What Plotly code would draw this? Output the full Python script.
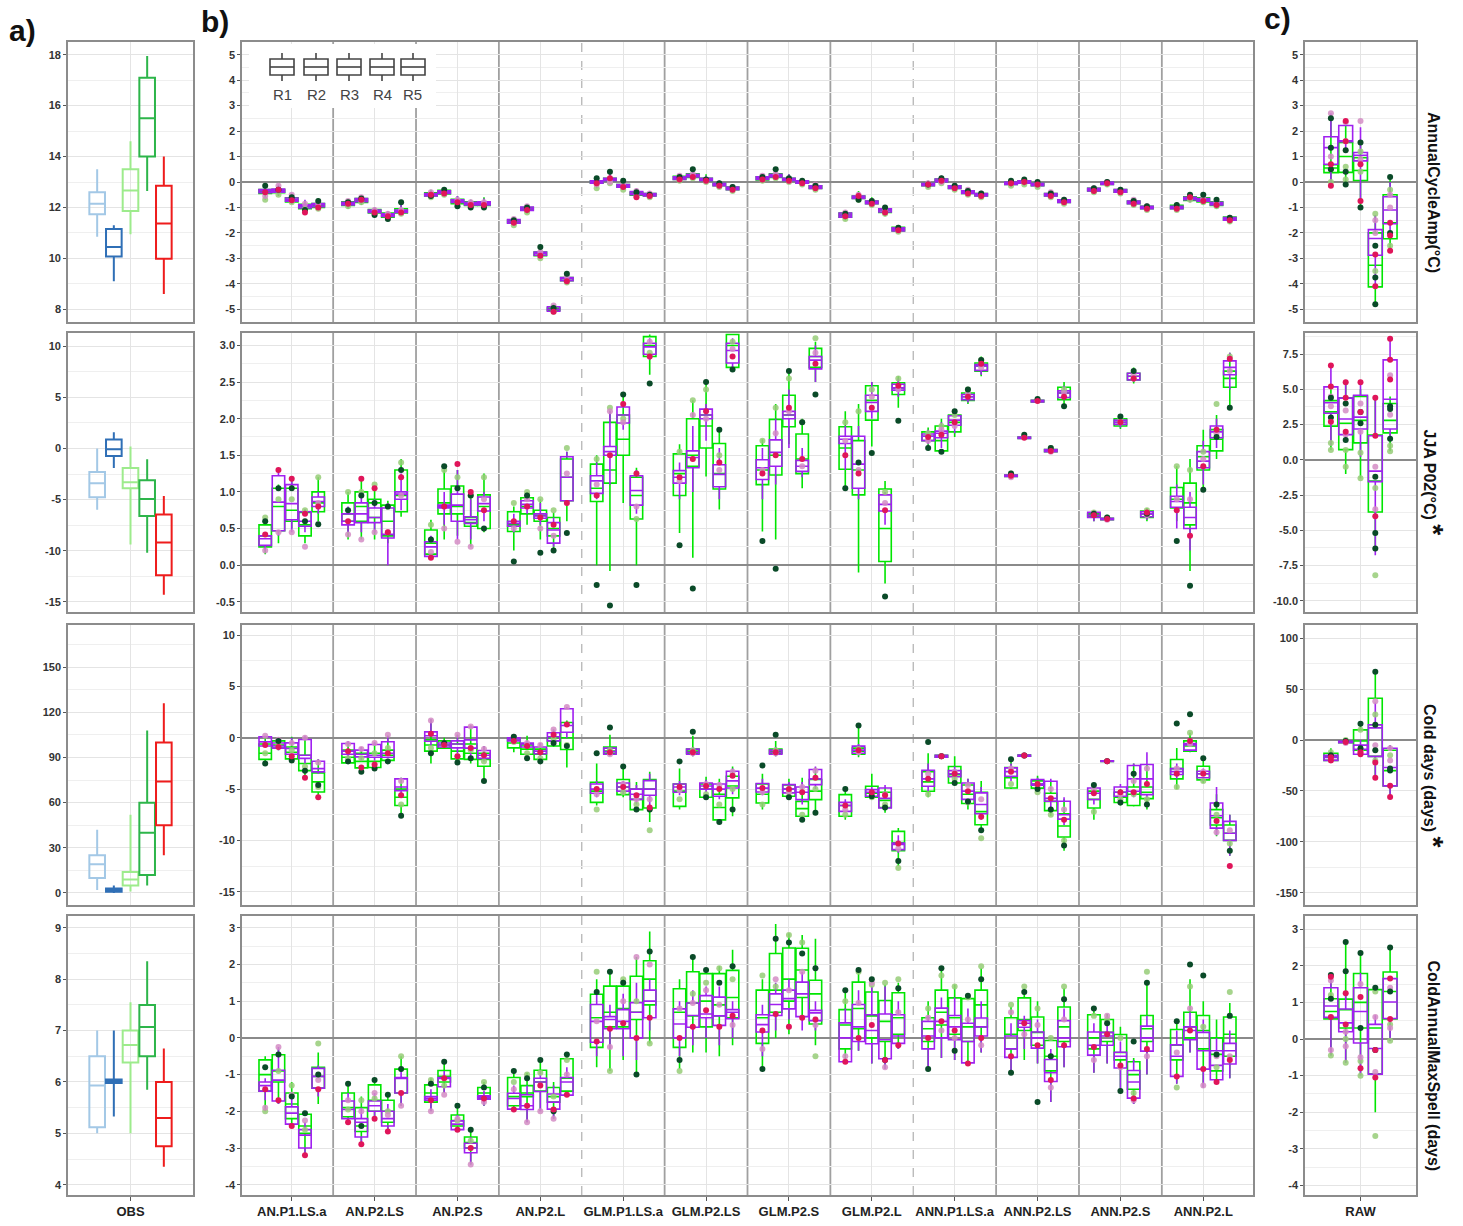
import plotly.graph_objects as go

W, H = 1463, 1226

# ---------------- categories ----------------
methods = ["AN.P1.LS.a", "AN.P2.LS", "AN.P2.S", "AN.P2.L",
           "GLM.P1.LS.a", "GLM.P2.LS", "GLM.P2.S", "GLM.P2.L",
           "ANN.P1.LS.a", "ANN.P2.LS", "ANN.P2.S", "ANN.P2.L"]
runs = ["R1", "R2", "R3", "R4", "R5"]
row_titles = ["AnnualCycleAmp(°C)", "JJA P02(°C)", "Cold days (days)", "ColdAnnualMaxSpell (days)"]
row_star = [False, True, True, False]
obs_colors = ["#a3c8e6", "#2f6fb6", "#9deb8c", "#2db54a", "#ee1c1c"]

# ---------------- y-axis tick labels per panel (a, b, c) ----------------
ticks_a = [["8", "10", "12", "14", "16", "18"],
           ["-15", "-10", "-5", "0", "5", "10"],
           ["0", "30", "60", "90", "120", "150"],
           ["4", "5", "6", "7", "8", "9"]]
ticks_b = [["-5", "-4", "-3", "-2", "-1", "0", "1", "2", "3", "4", "5"],
           ["-0.5", "0.0", "0.5", "1.0", "1.5", "2.0", "2.5", "3.0"],
           ["-15", "-10", "-5", "0", "5", "10"],
           ["-4", "-3", "-2", "-1", "0", "1", "2", "3"]]
ticks_c = [["-5", "-4", "-3", "-2", "-1", "0", "1", "2", "3", "4", "5"],
           ["-10.0", "-7.5", "-5.0", "-2.5", "0.0", "2.5", "5.0", "7.5"],
           ["-150", "-100", "-50", "0", "50", "100"],
           ["-4", "-3", "-2", "-1", "0", "1", "2", "3"]]
range_a = [[7.5, 18.5], [-16.0, 11.3], [-8, 178], [3.8, 9.23]]
range_b = [[-5.5, 5.5], [-0.64, 3.17], [-16.3, 11.0], [-4.28, 3.32]]
range_c = [[-5.5, 5.5], [-10.8, 9.0], [-162, 113], [-4.26, 3.36]]

# ---------------- OBS (panel a): (lower, q1, median, q3, upper) per colour ----------------
obs_acamp = [(10.85, 11.73, 12.15, 12.6, 13.5), (9.1, 10.07, 10.45, 11.15, 11.3),
             (10.95, 11.86, 12.67, 13.5, 14.6), (12.65, 14.0, 15.5, 17.1, 17.95),
             (8.6, 9.98, 11.37, 12.85, 14.0)]
obs_jja = [(-6.0, -4.77, -3.4, -2.3, 0.0), (-1.9, -0.73, -0.07, 0.87, 1.6),
           (-9.4, -3.9, -3.3, -1.9, 0.2), (-10.2, -6.6, -4.95, -3.1, -1.06),
           (-14.3, -12.4, -9.2, -6.45, -4.66)]
obs_cold = [(2, 10, 19, 25, 42), (0, 0.8, 2, 3, 5),
            (1, 5, 9, 14, 52), (5, 12, 40, 60, 108),
            (25, 45, 74, 100, 126)]
obs_spell = [(5.0, 5.12, 5.93, 6.5, 7.0), (5.33, 5.98, 6.02, 6.05, 7.0),
             (5.0, 6.38, 6.72, 7.0, 7.55), (5.85, 6.5, 7.07, 7.5, 8.35),
             (4.35, 4.75, 5.3, 6.0, 6.65)]

# ---------------- RAW (panel c): (lower, q1, median, q3, upper) per run ----------------
raw_acamp_purple = [(-0.15, 0.7, 1.35, 1.78, 2.7), (1.3, 1.58, 1.62, 2.22, 2.45), (-0.75, 0.83, 1.05, 1.16, 2.15),
                    (-4.1, -2.88, -2.22, -1.87, -1.3), (-2.1, -1.64, -1.1, -0.58, 0.0)]
raw_acamp_green = [(-0.15, 0.37, 0.55, 0.68, 2.5), (-0.1, 0.38, 1.0, 1.55, 2.4), (-1.0, 0.06, 0.45, 0.95, 1.6),
                   (-4.8, -4.12, -3.27, -2.0, -1.3), (-2.7, -2.23, -1.6, -0.5, 0.2)]
raw_jja_purple = [(1.0, 3.3, 4.05, 5.18, 6.7), (1.3, 1.79, 2.9, 4.38, 5.5), (0.2, 2.19, 3.03, 4.58, 5.5),
                  (-6.77, -1.55, -0.8, 1.71, 4.4), (1.5, 2.19, 4.3, 7.09, 8.6)]
raw_jja_green = [(0.7, 2.39, 3.4, 4.2, 5.0), (-1.0, 0.72, 2.6, 4.4, 5.5), (-1.3, 1.2, 2.8, 4.5, 5.0),
                 (-6.3, -3.7, -1.5, 1.75, 4.5), (0.6, 1.91, 2.8, 4.0, 4.5)]
raw_cold_purple = [(-22, -20, -17, -15, -13), (-3, -2.5, -2, -1, -0.5), (-15, -14, -9, -5, 0),
                   (-37, -16, 12, 15, 37), (-56, -45, -27, -8, -5)]
raw_cold_green = [(-22, -20, -16, -13, -8), (-3, -2.5, -2, -1, -0.5), (-15, -10, -1, 10, 17),
                  (-35, -16, 15, 41, 68), (-56, -45, -30, -10, -5)]
raw_spell_purple = [(-0.45, 0.59, 0.9, 1.4, 1.75), (-0.65, 0.2, 0.44, 0.82, 1.3), (-1.0, -0.11, 0.75, 1.4, 1.8),
                    (-1.1, -0.96, -0.26, 0.4, 0.65), (-0.05, 0.56, 1.01, 1.65, 1.7)]
raw_spell_green = [(-0.45, 0.55, 0.75, 1.1, 1.75), (-0.65, 0.3, 0.8, 1.09, 2.65), (-1.0, 0.3, 1.0, 1.79, 2.35),
                   (-2.0, -0.95, 0.3, 1.35, 1.45), (-0.05, 0.55, 1.3, 1.83, 2.5)]

# member points in RAW panels (per run)
raw_acamp_red = [[0.7, -0.15], [2.4, 1.6], [0.7, -0.75], [-2.85, -4.1], [-1.6, -2.1, -2.7]]
raw_acamp_dk = [[1.35, 0.5, 2.5], [1.25, 0.4, -0.1], [1.55, -1.0], [-2.5, -3.75, -4.8], [-2.0, 0.2]]
raw_acamp_pink = [[2.7, 1.0], [1.6, 2.35], [2.4, 0.9], [-1.5, -2.0], [-0.5, -1.0]]
raw_acamp_lt = [[0.5, 0.0], [0.6, 0.1], [1.2, 0.4], [-1.25, -3.5], [-0.3, -2.5]]
raw_jja_red = [[6.7, 5.2, 2.7], [5.5, 4.4, 2.0], [5.5, 3.4], [4.4, 1.7, -4.0], [8.6, 7.1, 5.7]]
raw_jja_dk = [[4.4, 3.0], [4.0, 1.4], [3.4, 2.6], [-1.2, -5.2, -6.3], [3.8, 3.6, 1.5]]
raw_jja_pink = [[4.5, 3.8], [3.5, 1.8], [4.0, 2.0], [-0.5, -3.5], [6.0, 3.2]]
raw_jja_lt = [[1.2, 0.7], [-0.5, 0.7], [0.5, -1.3], [-2.0, -8.2], [1.0, 0.6]]
raw_cold_red = [[-20, -17], [-2], [-14, -12], [-22, -37], [-45, -56]]
raw_cold_dk = [[-15], [-1], [16, -8], [67, 15, -10], [-28, -30]]
raw_cold_pink = [[-18], [-3], [-10], [-5, 38], [-20, -8]]
raw_cold_lt = [[-12], [0], [10], [25, -20], [-15]]
raw_spell_red = [[1.7, 0.6], [1.25, 0.4], [1.15, -0.8], [-1.05, -0.3], [1.65, 0.55]]
raw_spell_dk = [[1.75, 1.1], [2.65, 1.85], [2.35, 0.3], [1.4, -0.3], [2.5, 1.3]]
raw_spell_pink = [[1.6, -0.3], [0.2, -0.2], [1.5, -0.5], [0.6, -0.9], [1.4, 0.3]]
raw_spell_lt = [[1.2, -0.45], [0.0, -0.65], [-0.6, -1.0], [-2.65, 1.3], [0.4, -0.05]]

# ---------------- methods (panel b): 12 methods x 5 runs, (lower, q1, median, q3, upper) ----------------
acamp_purple = [
    (-0.5, -0.42, -0.35, -0.3, -0.2), (-0.5, -0.4, -0.35, -0.28, -0.1), (-0.85, -0.75, -0.7, -0.63, -0.45), (-1.25, -1.02, -0.95, -0.9, -0.7), (-1.1, -0.97, -0.9, -0.85, -0.7),
    (-1.0, -0.9, -0.85, -0.8, -0.7), (-0.85, -0.77, -0.7, -0.65, -0.55), (-1.3, -1.2, -1.15, -1.1, -1.0), (-1.45, -1.35, -1.3, -1.25, -1.15), (-1.3, -1.2, -1.15, -1.1, -0.8),
    (-0.6, -0.55, -0.5, -0.45, -0.35), (-0.5, -0.45, -0.4, -0.35, -0.25), (-0.9, -0.8, -0.75, -0.7, -0.55), (-1.0, -0.9, -0.85, -0.8, -0.7), (-1.0, -0.9, -0.85, -0.78, -0.65),
    (-1.7, -1.62, -1.55, -1.48, -1.4), (-1.2, -1.12, -1.05, -0.98, -0.9), (-3.0, -2.88, -2.8, -2.75, -2.65), (-5.15, -5.08, -5.0, -4.9, -4.8), (-4.0, -3.88, -3.8, -3.75, -3.65),
    (-0.15, -0.05, 0.0, 0.05, 0.15), (-0.05, 0.05, 0.1, 0.15, 0.35), (-0.3, -0.2, -0.15, -0.1, 0.0), (-0.65, -0.5, -0.45, -0.38, -0.25), (-0.65, -0.55, -0.5, -0.45, -0.35),
    (0.05, 0.1, 0.15, 0.2, 0.3), (0.1, 0.2, 0.25, 0.3, 0.5), (-0.05, 0.05, 0.1, 0.15, 0.25), (-0.25, -0.15, -0.1, -0.05, 0.05), (-0.35, -0.3, -0.25, -0.2, -0.1),
    (0.0, 0.1, 0.15, 0.2, 0.3), (0.1, 0.2, 0.25, 0.3, 0.5), (-0.05, 0.05, 0.1, 0.15, 0.3), (-0.15, -0.05, 0.0, 0.05, 0.15), (-0.35, -0.25, -0.2, -0.15, -0.05),
    (-1.45, -1.38, -1.3, -1.22, -1.15), (-0.75, -0.65, -0.6, -0.55, -0.4), (-0.95, -0.85, -0.8, -0.75, -0.65), (-1.3, -1.18, -1.1, -1.05, -0.95), (-2.0, -1.92, -1.85, -1.8, -1.7),
    (-0.25, -0.15, -0.1, -0.05, 0.05), (-0.1, 0.0, 0.05, 0.12, 0.25), (-0.35, -0.25, -0.2, -0.15, -0.05), (-0.55, -0.45, -0.4, -0.35, -0.25), (-0.65, -0.55, -0.5, -0.45, -0.35),
    (-0.2, -0.1, -0.05, 0.0, 0.1), (-0.15, -0.05, 0.0, 0.05, 0.2), (-0.25, -0.15, -0.1, -0.05, 0.05), (-0.65, -0.55, -0.5, -0.45, -0.35), (-0.9, -0.8, -0.75, -0.7, -0.6),
    (-0.45, -0.35, -0.3, -0.25, -0.15), (-0.15, -0.1, -0.05, 0.0, 0.1), (-0.5, -0.4, -0.35, -0.3, -0.2), (-0.95, -0.85, -0.8, -0.75, -0.65), (-1.1, -1.05, -1.0, -0.95, -0.85),
    (-1.15, -1.05, -1.0, -0.95, -0.85), (-0.8, -0.7, -0.65, -0.6, -0.5), (-0.85, -0.75, -0.7, -0.65, -0.5), (-1.0, -0.9, -0.85, -0.8, -0.65), (-1.6, -1.5, -1.45, -1.4, -1.3)]
acamp_green = [
    (-0.7, -0.45, -0.38, -0.3, -0.15), (-0.55, -0.42, -0.35, -0.3, -0.15), (-0.85, -0.78, -0.7, -0.62, -0.5), (-1.2, -1.05, -0.97, -0.88, -0.75), (-1.1, -1.0, -0.92, -0.85, -0.65),
    (-1.05, -0.92, -0.85, -0.78, -0.7), (-0.9, -0.8, -0.72, -0.65, -0.6), (-1.35, -1.22, -1.15, -1.08, -1.0), (-1.5, -1.38, -1.3, -1.22, -1.15), (-1.3, -1.22, -1.15, -1.05, -0.8),
    (-0.6, -0.55, -0.5, -0.42, -0.3), (-0.55, -0.47, -0.4, -0.33, -0.25), (-1.0, -0.85, -0.75, -0.68, -0.55), (-1.05, -0.92, -0.85, -0.78, -0.7), (-1.05, -0.92, -0.85, -0.78, -0.6),
    (-1.7, -1.6, -1.55, -1.5, -1.4), (-1.25, -1.1, -1.05, -1.0, -0.9), (-3.0, -2.9, -2.82, -2.75, -2.55), (-5.1, -5.05, -5.0, -4.95, -4.85), (-4.0, -3.88, -3.8, -3.75, -3.6),
    (-0.25, -0.05, 0.0, 0.05, 0.15), (0.0, 0.05, 0.1, 0.15, 0.4), (-0.3, -0.2, -0.15, -0.1, 0.05), (-0.65, -0.52, -0.45, -0.4, -0.3), (-0.65, -0.55, -0.5, -0.45, -0.35),
    (0.0, 0.1, 0.15, 0.22, 0.3), (0.1, 0.18, 0.25, 0.32, 0.5), (-0.05, 0.05, 0.1, 0.15, 0.3), (-0.25, -0.15, -0.1, -0.05, 0.05), (-0.4, -0.3, -0.25, -0.2, -0.1),
    (0.0, 0.08, 0.15, 0.2, 0.3), (0.1, 0.18, 0.25, 0.32, 0.5), (-0.05, 0.05, 0.1, 0.15, 0.3), (-0.15, -0.05, 0.0, 0.05, 0.15), (-0.35, -0.25, -0.2, -0.15, -0.05),
    (-1.5, -1.38, -1.3, -1.22, -1.15), (-0.8, -0.65, -0.6, -0.55, -0.35), (-0.95, -0.85, -0.8, -0.75, -0.6), (-1.35, -1.2, -1.1, -1.05, -0.9), (-2.0, -1.92, -1.85, -1.78, -1.7),
    (-0.25, -0.15, -0.1, -0.05, 0.05), (-0.1, 0.0, 0.05, 0.12, 0.25), (-0.35, -0.25, -0.2, -0.15, -0.05), (-0.55, -0.45, -0.4, -0.35, -0.25), (-0.65, -0.55, -0.5, -0.45, -0.35),
    (-0.2, -0.1, -0.05, 0.0, 0.1), (-0.15, -0.05, 0.0, 0.05, 0.2), (-0.25, -0.15, -0.1, -0.05, 0.05), (-0.65, -0.55, -0.5, -0.45, -0.35), (-0.9, -0.8, -0.75, -0.7, -0.6),
    (-0.45, -0.35, -0.3, -0.25, -0.15), (-0.2, -0.1, -0.05, 0.0, 0.1), (-0.5, -0.4, -0.35, -0.3, -0.2), (-0.95, -0.85, -0.8, -0.75, -0.65), (-1.15, -1.05, -1.0, -0.95, -0.85),
    (-1.15, -1.05, -1.0, -0.92, -0.8), (-0.8, -0.72, -0.65, -0.58, -0.45), (-0.9, -0.78, -0.7, -0.62, -0.45), (-1.05, -0.92, -0.85, -0.78, -0.65), (-1.65, -1.5, -1.45, -1.38, -1.3)]
acamp_red = [-0.4, -0.3, -0.72, -1.2, -1.0, -0.85, -0.7, -1.2, -1.35, -1.2, -0.5, -0.45, -0.8, -0.9, -0.9,
             -1.6, -1.1, -2.9, -5.1, -3.9, -0.05, 0.15, -0.2, -0.6, -0.55, 0.1, 0.2, 0.05, -0.15, -0.3,
             0.1, 0.2, 0.05, -0.05, -0.25, -1.35, -0.55, -0.85, -1.2, -1.9, -0.1, 0.05, -0.25, -0.45, -0.55,
             -0.05, 0.0, -0.1, -0.55, -0.8, -0.35, -0.05, -0.4, -0.85, -1.05, -1.05, -0.6, -0.75, -0.9, -1.5]
acamp_dk = [-0.15, -0.3, -0.6, -1.1, -0.75, -0.8, -0.65, -1.3, -1.45, -0.8, -0.55, -0.3, -0.95, -1.0, -1.0,
            -1.5, -1.0, -2.55, -4.95, -3.6, 0.15, 0.4, 0.05, -0.4, -0.5, 0.2, 0.5, 0.1, -0.05, -0.2,
            0.2, 0.5, 0.15, 0.05, -0.15, -1.25, -0.7, -0.75, -1.0, -1.8, -0.1, 0.15, -0.15, -0.35, -0.45,
            0.05, 0.1, 0.0, -0.45, -0.7, -0.25, 0.0, -0.3, -0.75, -0.95, -0.9, -0.5, -0.5, -0.7, -1.4]
acamp_pink = [-0.55, -0.15, -0.5, -0.85, -0.85, -0.75, -0.6, -1.1, -1.25, -1.1, -0.4, -0.35, -0.7, -0.8, -0.8,
              -1.45, -0.95, -2.75, -4.85, -3.7, -0.1, 0.0, -0.05, -0.35, -0.45, 0.25, 0.3, 0.05, -0.1, -0.2,
              0.25, 0.3, 0.05, 0.0, -0.1, -1.2, -0.5, -0.75, -1.05, -1.8, -0.05, 0.0, -0.15, -0.3, -0.45,
              0.0, 0.05, -0.05, -0.4, -0.7, -0.25, 0.0, -0.3, -0.7, -0.95, -0.95, -0.55, -0.65, -0.8, -1.4]
acamp_lt = [-0.7, -0.5, -0.8, -1.05, -1.05, -0.95, -0.8, -1.25, -1.4, -1.25, -0.6, -0.5, -0.85, -0.95, -0.95,
            -1.7, -1.2, -3.0, -5.1, -3.95, -0.25, -0.05, -0.3, -0.55, -0.6, 0.05, 0.15, 0.0, -0.2, -0.35,
            0.05, 0.15, 0.0, -0.1, -0.3, -1.45, -0.7, -0.9, -1.25, -1.95, -0.2, -0.05, -0.3, -0.5, -0.6,
            -0.15, -0.1, -0.2, -0.6, -0.85, -0.4, -0.1, -0.45, -0.9, -1.1, -1.1, -0.7, -0.8, -0.95, -1.55]

jja_purple = [
    (0.2, 0.27, 0.36, 0.4, 0.45), (0.4, 0.47, 0.86, 1.22, 1.32), (0.45, 0.62, 0.84, 1.1, 1.2), (0.45, 0.53, 0.6, 0.73, 0.76), (0.7, 0.8, 0.87, 0.93, 1.0),
    (0.45, 0.55, 0.6, 0.7, 0.8), (0.45, 0.58, 0.7, 0.85, 1.0), (0.45, 0.58, 0.65, 0.78, 0.9), (0.0, 0.37, 0.42, 0.78, 0.85), (0.75, 0.9, 0.97, 1.0, 1.25),
    (0.08, 0.12, 0.25, 0.32, 0.4), (0.55, 0.78, 0.8, 0.82, 1.0), (0.35, 0.6, 0.82, 0.97, 1.3), (0.35, 0.57, 0.62, 0.66, 0.9), (0.6, 0.74, 0.84, 0.93, 1.0),
    (0.45, 0.53, 0.57, 0.6, 0.7), (0.7, 0.78, 0.83, 0.88, 0.95), (0.55, 0.64, 0.67, 0.7, 0.85), (0.25, 0.3, 0.48, 0.58, 0.65), (0.85, 0.88, 1.2, 1.48, 1.55),
    (0.9, 0.98, 1.15, 1.22, 1.4), (1.1, 1.5, 1.55, 1.62, 2.1), (1.85, 1.94, 2.05, 2.16, 2.2), (0.7, 0.82, 1.02, 1.22, 1.3), (2.8, 2.88, 2.98, 3.03, 3.1),
    (0.9, 1.12, 1.2, 1.29, 1.4), (1.0, 1.33, 1.47, 1.56, 1.9), (1.7, 2.0, 2.05, 2.13, 2.2), (0.9, 1.07, 1.24, 1.37, 1.6), (2.7, 2.76, 2.93, 3.03, 3.1),
    (0.9, 1.17, 1.33, 1.44, 1.6), (1.1, 1.35, 1.54, 1.71, 2.0), (1.6, 2.0, 2.05, 2.1, 2.4), (1.2, 1.28, 1.35, 1.43, 1.6), (2.5, 2.68, 2.8, 2.85, 3.0),
    (1.3, 1.66, 1.72, 1.76, 1.9), (0.9, 1.05, 1.38, 1.76, 1.9), (2.0, 2.1, 2.22, 2.32, 2.5), (0.55, 0.74, 0.83, 0.96, 1.0), (2.3, 2.39, 2.42, 2.47, 2.55),
    (1.65, 1.7, 1.76, 1.79, 1.85), (1.6, 1.74, 1.8, 1.83, 1.95), (1.8, 1.91, 1.98, 2.04, 2.1), (2.22, 2.26, 2.3, 2.33, 2.38), (2.6, 2.66, 2.72, 2.74, 2.8),
    (1.19, 1.21, 1.22, 1.23, 1.25), (1.72, 1.73, 1.74, 1.75, 1.76), (2.22, 2.23, 2.24, 2.25, 2.26), (1.52, 1.55, 1.56, 1.58, 1.6), (2.25, 2.29, 2.35, 2.38, 2.45),
    (0.6, 0.65, 0.68, 0.72, 0.75), (0.61, 0.62, 0.63, 0.64, 0.65), (1.88, 1.92, 1.95, 1.98, 2.02), (2.5, 2.53, 2.58, 2.62, 2.68), (0.62, 0.66, 0.7, 0.73, 0.76),
    (0.5, 0.79, 0.87, 0.94, 1.1), (0.2, 0.5, 0.65, 0.79, 1.0), (1.1, 1.33, 1.42, 1.55, 1.7), (1.6, 1.74, 1.82, 1.9, 2.0), (2.4, 2.6, 2.7, 2.79, 2.9)]
jja_green = [
    (0.15, 0.25, 0.4, 0.55, 0.6), (0.3, 0.47, 0.8, 1.05, 1.1), (0.5, 0.6, 0.75, 1.05, 1.15), (0.3, 0.4, 0.55, 0.72, 0.76), (0.6, 0.73, 0.85, 1.0, 1.2),
    (0.35, 0.6, 0.7, 0.85, 1.0), (0.35, 0.6, 0.8, 1.0, 1.15), (0.35, 0.65, 0.85, 0.9, 1.05), (0.3, 0.4, 0.6, 0.82, 0.88), (0.66, 0.73, 0.95, 1.3, 1.45),
    (0.07, 0.15, 0.3, 0.48, 0.62), (0.35, 0.7, 0.85, 1.04, 1.3), (0.4, 0.7, 0.8, 1.08, 1.3), (0.25, 0.53, 0.58, 0.65, 0.95), (0.45, 0.5, 0.8, 0.96, 1.25),
    (0.2, 0.46, 0.55, 0.73, 0.8), (0.55, 0.7, 0.8, 0.92, 1.0), (0.35, 0.6, 0.68, 0.75, 0.9), (0.2, 0.4, 0.5, 0.65, 0.72), (0.6, 0.88, 1.2, 1.45, 1.55),
    (0.0, 0.87, 1.05, 1.38, 1.5), (-0.08, 1.12, 1.3, 1.95, 2.1), (0.85, 1.5, 1.72, 2.05, 2.33), (0.0, 0.63, 0.95, 1.2, 1.33), (2.6, 2.85, 3.0, 3.12, 3.15),
    (0.44, 0.95, 1.25, 1.52, 1.65), (0.1, 1.35, 1.5, 2.0, 2.25), (1.21, 1.6, 1.9, 2.05, 2.48), (0.76, 1.04, 1.25, 1.66, 1.85), (2.65, 2.7, 3.0, 3.15, 3.15),
    (0.46, 1.1, 1.3, 1.63, 1.72), (0.35, 1.23, 1.5, 1.99, 2.2), (1.65, 1.89, 2.05, 2.32, 2.65), (1.05, 1.25, 1.45, 1.79, 2.0), (2.5, 2.7, 2.85, 2.96, 3.05),
    (1.05, 1.31, 1.6, 1.89, 2.1), (-0.1, 0.96, 1.3, 1.7, 2.2), (1.62, 1.98, 2.25, 2.45, 2.5), (-0.25, 0.05, 0.5, 1.04, 1.15), (2.15, 2.33, 2.42, 2.49, 2.58),
    (1.62, 1.7, 1.76, 1.82, 1.88), (1.55, 1.56, 1.7, 1.9, 2.0), (1.75, 1.82, 1.95, 2.05, 2.12), (2.2, 2.25, 2.3, 2.35, 2.4), (2.58, 2.65, 2.72, 2.76, 2.85),
    (1.19, 1.21, 1.22, 1.23, 1.25), (1.72, 1.73, 1.74, 1.75, 1.76), (2.22, 2.23, 2.24, 2.25, 2.26), (1.52, 1.55, 1.56, 1.58, 1.6), (2.17, 2.26, 2.35, 2.43, 2.5),
    (0.6, 0.66, 0.68, 0.7, 0.75), (0.61, 0.62, 0.63, 0.64, 0.65), (1.86, 1.9, 1.95, 2.0, 2.05), (2.48, 2.53, 2.58, 2.62, 2.7), (0.6, 0.65, 0.7, 0.74, 0.78),
    (0.6, 0.78, 0.9, 1.06, 1.35), (-0.08, 0.55, 0.85, 1.12, 1.45), (1.03, 1.3, 1.48, 1.63, 1.85), (1.45, 1.56, 1.72, 1.85, 2.05), (2.15, 2.43, 2.55, 2.65, 2.9)]
jja_red = [0.42, 1.3, 1.18, 0.7, 0.8, 0.6, 1.18, 1.05, 0.45, 1.2, 0.1, 0.8, 1.38, 1.0, 0.75,
           0.6, 0.8, 0.65, 0.55, 0.85, 0.95, 1.5, 2.2, 1.25, 2.85, 1.2, 1.45, 2.1, 1.4, 2.85,
           1.25, 1.5, 2.15, 1.45, 2.75, 1.5, 1.25, 2.15, 0.75, 2.45, 1.75, 1.78, 1.95, 2.3, 2.75,
           1.22, 1.74, 2.24, 1.56, 2.3, 0.68, 0.63, 1.95, 2.55, 0.72, 0.75, 0.4, 1.35, 1.85, 2.82]
jja_dk = [0.6, 1.05, 1.05, 0.6, 0.56, 0.75, 0.95, 0.85, 0.8, 1.3, 0.35, 1.35, 1.05, 0.95, 0.5,
          0.05, 0.95, 0.17, 0.2, 0.44, -0.27, -0.55, 2.33, -0.27, 2.48, 0.27, -0.32, 2.5, 1.85, 2.67,
          0.33, -0.05, 2.65, 1.95, 2.33, 1.05, 1.4, 1.53, -0.43, 1.97, 1.6, 1.55, 2.1, 2.4, 2.8,
          1.25, 1.78, 2.27, 1.6, 2.17, 0.7, 0.65, 2.03, 2.65, 0.7, 0.33, -0.28, 1.03, 1.75, 2.15]
jja_pink = [0.2, 0.45, 0.45, 0.25, 0.85, 0.42, 0.35, 0.45, 0.45, 0.95, 0.18, 0.5, 0.32, 0.25, 0.9,
            0.5, 0.9, 0.5, 0.4, 1.25, 1.1, 2.1, 1.95, 0.8, 3.05, 1.15, 2.05, 2.0, 1.3, 2.95,
            1.3, 1.8, 2.1, 1.35, 2.9, 1.7, 1.3, 2.3, 0.85, 2.4, 1.7, 1.85, 1.9, 2.35, 2.7,
            1.2, 1.75, 2.25, 1.55, 2.35, 0.7, 0.62, 1.95, 2.6, 0.68, 0.9, 0.9, 1.45, 1.8, 2.65]
jja_lt = [0.65, 0.9, 0.9, 0.75, 1.2, 1.0, 1.0, 1.1, 0.8, 1.4, 0.55, 1.3, 1.2, 0.95, 1.2,
          0.85, 1.0, 0.9, 0.75, 1.6, 1.45, 2.15, 2.0, 0.63, 2.9, 1.55, 2.25, 2.4, 1.5, 3.05,
          1.7, 2.15, 2.55, 1.95, 3.1, 1.95, 2.1, 2.4, 1.0, 2.55, 1.8, 1.9, 2.05, 2.4, 2.8,
          1.25, 1.76, 2.25, 1.6, 2.4, 0.72, 0.65, 2.0, 2.55, 0.75, 1.35, 1.3, 1.55, 2.2, 2.85]

cold_purple = [
    (-0.9, -0.8, -0.4, 0.1, 0.2), (-1.2, -1.0, -0.8, -0.5, -0.2), (-2.0, -1.6, -1.04, -0.49, 0.0), (-2.5, -2.0, -1.7, -0.16, 0.2), (-3.5, -3.32, -3.0, -2.28, -2.1),
    (-2.0, -1.6, -1.3, -0.55, -0.3), (-2.2, -1.86, -1.6, -1.2, -0.9), (-2.2, -1.9, -1.7, -0.65, -0.4), (-2.0, -1.9, -1.5, -0.39, 0.2), (-5.8, -5.15, -4.8, -4.0, -3.9),
    (-0.8, -0.33, 0.2, 0.58, 1.8), (-1.0, -0.9, -0.7, -0.5, -0.3), (-1.5, -0.98, -0.6, -0.3, 0.3), (-1.8, -1.0, -0.2, 1.04, 1.2), (-2.3, -2.0, -1.7, -1.24, -0.8),
    (-0.5, -0.3, -0.1, 0.0, 0.2), (-1.1, -0.9, -0.6, -0.5, -0.3), (-1.8, -1.56, -1.3, -0.9, -0.5), (-0.5, -0.3, 0.1, 0.49, 0.8), (0.0, 0.55, 1.2, 2.83, 3.0),
    (-5.8, -5.4, -5.0, -4.5, -4.2), (-1.7, -1.6, -1.35, -1.0, -0.9), (-5.5, -5.2, -4.8, -4.4, -4.2), (-6.5, -6.0, -5.5, -5.0, -4.6), (-7.0, -5.6, -5.0, -4.17, -3.5),
    (-5.6, -5.3, -4.8, -4.5, -4.2), (-1.8, -1.6, -1.4, -1.1, -0.9), (-5.3, -5.0, -4.7, -4.4, -4.1), (-6.0, -5.7, -5.0, -4.5, -4.3), (-5.5, -4.89, -4.2, -3.26, -3.0),
    (-5.6, -5.28, -4.9, -4.46, -4.0), (-1.8, -1.6, -1.4, -1.2, -0.9), (-5.6, -5.37, -5.0, -4.56, -4.3), (-6.5, -6.03, -5.3, -4.8, -4.3), (-5.0, -4.56, -4.0, -3.09, -2.8),
    (-7.3, -7.17, -6.6, -6.29, -6.0), (-1.7, -1.5, -1.2, -0.81, -0.6), (-5.8, -5.7, -5.3, -5.05, -4.8), (-7.0, -6.84, -5.9, -4.89, -4.6), (-11.2, -10.9, -10.4, -10.26, -9.5),
    (-5.2, -4.72, -4.0, -3.16, -2.5), (-2.0, -1.9, -1.8, -1.7, -1.6), (-4.2, -3.8, -3.5, -3.2, -2.8), (-6.5, -6.0, -5.2, -4.4, -4.0), (-8.0, -7.4, -6.5, -5.37, -4.8),
    (-4.2, -3.75, -3.3, -2.93, -2.5), (-1.85, -1.8, -1.73, -1.68, -1.6), (-5.0, -4.62, -4.5, -4.07, -3.9), (-6.8, -6.19, -5.9, -4.23, -4.0), (-8.5, -7.93, -7.5, -6.19, -5.8),
    (-6.5, -6.02, -5.4, -4.89, -4.6), (-2.35, -2.3, -2.28, -2.25, -2.2), (-6.0, -5.7, -5.3, -4.8, -4.5), (-5.8, -5.21, -4.0, -2.7, -2.5), (-6.0, -5.54, -4.0, -2.6, -1.4),
    (-4.0, -3.58, -3.3, -3.0, -2.5), (-1.3, -1.2, -0.7, -0.55, -0.3), (-4.2, -3.9, -3.5, -3.26, -3.0), (-9.5, -8.8, -7.6, -6.35, -4.8), (-11.5, -10.0, -9.3, -8.15, -7.5)]
cold_green = [
    (-2.6, -2.1, -1.5, -0.6, 0.1), (-1.2, -1.0, -0.7, -0.3, 0.0), (-2.3, -2.05, -1.4, -0.9, 0.1), (-4.0, -3.2, -2.5, -1.7, 0.1), (-6.0, -5.28, -4.3, -3.42, -2.1),
    (-2.5, -2.44, -1.9, -1.2, -0.4), (-3.3, -2.93, -2.3, -1.5, -0.9), (-3.2, -2.9, -2.3, -1.5, -0.5), (-2.5, -2.2, -1.7, -1.2, 0.2), (-7.6, -6.6, -5.8, -5.0, -3.9),
    (-2.5, -1.3, -0.7, -0.2, 1.8), (-1.1, -1.0, -0.7, -0.3, 0.0), (-2.4, -2.05, -1.3, -0.6, 0.3), (-2.5, -2.1, -1.5, -0.6, 1.2), (-4.2, -2.77, -2.1, -1.5, -0.8),
    (-1.4, -0.98, -0.5, -0.1, 0.2), (-2.0, -1.6, -1.1, -0.7, 0.2), (-2.3, -2.1, -1.6, -1.1, -0.5), (-0.9, -0.8, -0.3, 0.0, 0.8), (-2.9, -1.14, 0.0, 1.5, 1.7),
    (-6.6, -6.29, -5.2, -4.33, -2.5), (-1.7, -1.5, -1.3, -0.9, 0.3), (-5.8, -5.54, -4.8, -4.07, -3.0), (-7.2, -7.0, -6.0, -5.0, -4.3), (-8.2, -6.84, -5.0, -4.07, -3.3),
    (-7.0, -6.68, -5.2, -4.5, -3.0), (-1.8, -1.5, -1.3, -1.1, 0.2), (-6.0, -5.8, -5.0, -4.5, -3.8), (-8.3, -8.0, -6.8, -5.5, -4.0), (-7.65, -5.86, -4.7, -3.75, -2.8),
    (-7.0, -6.35, -5.5, -4.5, -3.5), (-1.8, -1.5, -1.3, -1.1, -0.3), (-5.9, -5.7, -5.0, -4.6, -4.0), (-8.1, -7.65, -6.9, -6.2, -3.9), (-7.5, -6.03, -5.2, -4.07, -2.9),
    (-8.0, -7.65, -6.6, -5.54, -5.0), (-1.9, -1.6, -1.3, -1.0, 1.1), (-6.0, -5.8, -5.4, -4.72, -3.5), (-7.3, -6.8, -6.1, -5.3, -4.9), (-12.5, -11.0, -10.2, -9.12, -8.8),
    (-5.8, -5.21, -4.3, -3.3, -1.5), (-2.0, -1.9, -1.8, -1.7, -1.6), (-4.6, -4.4, -3.6, -2.8, -1.8), (-7.0, -6.4, -5.5, -4.6, -4.0), (-9.2, -8.47, -7.2, -5.3, -4.2),
    (-5.0, -4.89, -3.9, -2.9, -2.0), (-1.85, -1.8, -1.73, -1.68, -1.6), (-5.2, -4.9, -4.5, -4.2, -3.7), (-7.6, -7.1, -6.2, -5.4, -4.2), (-11.0, -9.67, -8.6, -7.4, -6.0),
    (-8.0, -6.84, -6.0, -5.2, -4.5), (-2.35, -2.3, -2.28, -2.25, -2.2), (-6.6, -6.3, -5.8, -5.3, -5.0), (-6.7, -6.6, -5.5, -4.8, -2.5), (-7.0, -5.93, -5.3, -4.8, -2.6),
    (-5.0, -4.0, -3.0, -2.12, -1.0), (-1.4, -1.3, -0.8, -0.3, 0.5), (-4.4, -4.1, -3.5, -2.77, -2.0), (-9.6, -8.5, -7.8, -7.0, -5.5), (-11.5, -10.0, -9.3, -8.5, -7.5)]
cold_red = [-0.7, -0.9, -1.8, -3.9, -5.8, -1.3, -2.9, -2.6, -1.5, -5.6, 0.4, -0.7, -1.8, -1.0, -1.7,
            -0.3, -0.8, -1.4, 0.3, 1.3, -5.0, -1.4, -4.8, -5.6, -6.8, -4.8, -1.4, -4.7, -5.0, -3.7,
            -4.9, -1.4, -5.0, -5.3, -3.9, -6.6, -1.2, -5.3, -5.6, -10.3, -4.0, -1.8, -3.5, -5.2, -7.7,
            -3.3, -1.73, -4.5, -5.9, -8.0, -5.4, -2.28, -5.3, -5.3, -4.5, -3.5, -0.3, -3.5, -8.1, -12.5]
cold_dk = [-2.5, -0.3, -2.2, -3.2, -4.6, -2.3, -3.3, -3.0, -2.3, -7.6, -1.5, -0.5, -2.4, -2.0, -4.2,
           0.1, -2.0, -2.3, -0.5, -0.8, -1.5, 1.0, -2.8, -7.0, -7.0, -2.3, 0.6, -5.8, -8.2, -7.0,
           -2.7, 0.3, -5.8, -8.0, -7.3, -5.0, 1.2, -5.7, -6.8, -12.0, -0.4, -1.8, -4.4, -6.2, -9.0,
           -2.1, -1.73, -5.0, -7.0, -10.5, -4.6, -2.28, -6.3, -3.5, -6.5, 1.4, 2.3, -2.0, -6.5, -11.0]
cold_pink = [0.2, -0.2, -0.5, 0.0, -2.4, -0.6, -1.1, -0.5, 0.3, -4.2, 1.7, -0.5, 0.3, 1.1, -1.1,
             0.1, -0.5, -0.7, 0.8, 3.0, -5.5, -1.6, -4.5, -6.0, -6.0, -5.1, -1.5, -4.5, -4.6, -3.3,
             -5.3, -1.5, -5.3, -4.8, -3.2, -7.0, -1.4, -5.6, -5.5, -10.8, -3.5, -1.8, -3.3, -4.6, -6.0,
             -3.0, -1.73, -4.8, -5.0, -7.0, -5.0, -2.28, -5.5, -4.2, -3.0, -3.0, -0.6, -3.3, -9.2, -9.0]
cold_lt = [-1.5, -0.6, -1.2, -2.8, -4.8, -2.0, -2.0, -1.5, -1.0, -6.5, -1.0, -0.7, -1.8, -1.2, -2.3,
           -0.4, -1.5, -2.0, -0.1, -0.7, -7.0, -1.2, -5.3, -6.5, -9.0, -6.0, -1.2, -5.5, -6.5, -5.0,
           -6.5, -1.2, -5.3, -7.5, -5.0, -7.5, -1.1, -5.8, -6.5, -12.7, -5.5, -1.8, -4.0, -6.3, -9.8,
           -4.5, -1.73, -5.3, -7.5, -10.0, -7.2, -2.28, -6.0, -5.5, -6.0, -4.8, 0.5, -4.2, -7.5, -10.3]

spell_purple = [
    (-1.7, -1.45, -1.3, -1.2, -1.1), (-1.8, -1.72, -1.15, -0.88, -0.25), (-2.45, -2.35, -2.05, -1.88, -1.6), (-3.2, -3.0, -2.65, -2.5, -2.3), (-1.6, -1.37, -1.05, -0.83, -0.75),
    (-2.3, -2.2, -1.95, -1.72, -1.5), (-2.9, -2.7, -2.3, -2.2, -1.9), (-2.2, -2.0, -1.85, -1.72, -1.5), (-2.55, -2.4, -2.2, -2.0, -1.8), (-1.85, -1.5, -1.1, -1.08, -0.9),
    (-2.0, -1.7, -1.65, -1.6, -1.4), (-1.5, -1.33, -1.1, -1.08, -0.9), (-2.55, -2.5, -2.35, -2.26, -2.1), (-3.45, -3.13, -3.0, -2.87, -2.7), (-1.85, -1.67, -1.62, -1.58, -1.45),
    (-1.95, -1.94, -1.65, -1.51, -1.3), (-2.3, -1.95, -1.85, -1.55, -1.3), (-2.0, -1.46, -1.2, -1.1, -0.9), (-2.2, -1.94, -1.75, -1.53, -1.3), (-1.6, -1.56, -1.2, -1.08, -0.8),
    (-0.5, -0.12, 0.45, 0.91, 1.2), (-0.3, 0.25, 0.5, 0.58, 0.9), (-0.5, 0.25, 0.45, 0.77, 1.2), (-0.6, 0.0, 0.7, 0.96, 1.5), (0.2, 0.55, 1.0, 1.3, 1.6),
    (-0.5, 0.0, 0.38, 0.79, 1.0), (-0.2, 0.29, 0.61, 0.95, 1.3), (0.0, 0.55, 0.65, 1.15, 1.4), (-0.2, 0.34, 0.6, 1.11, 1.4), (0.0, 0.52, 0.7, 0.77, 1.0),
    (-0.5, 0.16, 0.36, 0.63, 0.9), (0.2, 0.61, 0.91, 1.2, 1.5), (0.5, 0.79, 1.07, 1.3, 1.6), (0.2, 0.58, 1.2, 1.52, 1.8), (0.2, 0.47, 0.68, 0.75, 1.0),
    (-0.65, -0.65, 0.0, 0.41, 0.8), (-0.35, -0.1, 0.3, 0.91, 1.3), (-0.7, -0.16, 0.2, 0.63, 1.4), (-0.85, -0.57, -0.05, 0.65, 1.4), (-0.3, -0.15, 0.05, 0.63, 1.0),
    (-0.85, -0.3, 0.05, 0.45, 0.6), (-0.55, 0.0, 0.45, 0.81, 1.1), (-0.6, -0.05, 0.3, 0.61, 1.1), (-0.7, -0.68, -0.1, 0.4, 0.8), (-0.4, 0.05, 0.3, 0.54, 1.0),
    (-1.0, -0.53, -0.3, 0.05, 0.4), (-0.3, 0.29, 0.4, 0.47, 0.6), (-0.7, -0.28, 0.0, 0.16, 0.5), (-1.75, -1.19, -0.95, -0.59, -0.3), (-0.8, -0.24, 0.0, 0.47, 0.8),
    (-0.95, -0.47, -0.2, 0.16, 0.4), (-0.7, -0.2, 0.05, 0.15, 0.4), (-1.45, -0.82, -0.5, -0.39, -0.1), (-1.8, -1.64, -1.2, -0.89, -0.6), (-1.0, -0.36, 0.0, 0.32, 0.6),
    (-1.25, -1.05, -0.5, -0.19, 0.2), (-0.4, -0.05, 0.2, 0.3, 0.7), (-1.35, -0.85, -0.35, 0.15, 0.5), (-1.2, -1.14, -0.75, -0.35, 0.0), (-1.1, -0.71, -0.35, -0.15, 0.2)]
spell_green = [
    (-2.0, -1.45, -1.0, -0.6, -0.5), (-1.8, -1.2, -0.9, -0.46, -0.3), (-2.45, -2.2, -1.8, -1.5, -1.2), (-3.2, -2.6, -2.4, -2.08, -2.0), (-1.8, -1.37, -1.05, -0.8, -0.4),
    (-2.3, -2.15, -1.9, -1.5, -1.25), (-2.9, -2.55, -2.4, -1.9, -1.6), (-2.2, -2.0, -1.7, -1.28, -1.15), (-2.55, -2.3, -2.0, -1.7, -1.55), (-1.85, -1.5, -1.1, -0.85, -0.5),
    (-2.0, -1.75, -1.5, -1.28, -1.1), (-1.5, -1.2, -1.05, -0.89, -0.65), (-2.55, -2.4, -2.25, -2.1, -1.9), (-3.45, -3.0, -2.85, -2.7, -2.5), (-1.85, -1.65, -1.5, -1.35, -1.2),
    (-1.95, -1.85, -1.6, -1.08, -0.9), (-2.3, -1.6, -1.5, -1.3, -0.95), (-2.0, -1.45, -1.2, -0.88, -0.6), (-2.2, -1.75, -1.6, -1.35, -1.2), (-1.6, -1.45, -1.1, -0.57, -0.45),
    (-0.8, -0.26, 0.55, 1.19, 1.6), (-0.9, 0.3, 0.7, 1.41, 1.8), (-0.6, 0.3, 0.8, 1.41, 1.6), (-1.0, 0.5, 0.7, 1.68, 2.2), (-0.15, 0.9, 1.6, 2.1, 2.9),
    (-0.85, -0.26, 0.7, 1.34, 1.6), (-0.4, 0.6, 0.95, 1.8, 2.2), (-0.4, 0.3, 1.0, 1.75, 1.9), (-0.5, 0.6, 0.9, 1.75, 1.95), (-0.2, 0.55, 1.1, 1.84, 2.4),
    (-0.9, -0.15, 0.55, 1.3, 1.6), (0.0, 0.7, 1.3, 2.3, 3.1), (0.1, 1.0, 1.6, 2.45, 2.85), (0.5, 1.1, 1.85, 2.44, 2.8), (-0.2, 0.38, 1.2, 1.57, 2.7),
    (-0.7, -0.3, 0.35, 0.77, 1.3), (-0.35, 0.25, 0.8, 1.52, 1.85), (-0.7, 0.0, 0.6, 1.25, 1.4), (-0.85, -0.1, 0.45, 1.02, 1.45), (-0.3, 0.1, 0.55, 1.23, 1.5),
    (-0.85, -0.1, 0.25, 0.55, 1.0), (-0.55, 0.35, 0.7, 1.3, 1.9), (-0.6, 0.1, 0.55, 1.09, 1.45), (-0.7, -0.1, 0.3, 1.07, 1.2), (-0.4, 0.3, 0.9, 1.3, 1.9),
    (-1.0, -0.3, 0.1, 0.55, 0.85), (-0.6, 0.2, 0.5, 1.09, 1.35), (-0.7, -0.2, 0.15, 0.57, 1.0), (-1.75, -0.9, -0.5, -0.07, 0.0), (-0.8, -0.1, 0.3, 0.84, 1.35),
    (-0.95, -0.3, 0.0, 0.63, 0.8), (-0.7, -0.1, 0.15, 0.5, 0.65), (-1.45, -0.6, -0.4, 0.09, 0.3), (-1.8, -1.4, -1.0, -0.65, -0.55), (-1.0, -0.1, 0.25, 0.61, 1.45),
    (-1.25, -0.6, -0.2, 0.23, 0.5), (-0.4, 0.0, 0.3, 0.7, 1.6), (-1.35, -0.3, 0.2, 0.61, 1.0), (-1.2, -0.9, -0.45, 0.0, 0.5), (-1.1, -0.5, 0.1, 0.57, 0.95)]
spell_red = [-1.4, -1.7, -2.4, -3.2, -1.4, -2.3, -2.9, -2.2, -2.55, -1.5, -1.7, -1.1, -2.5, -3.0, -1.65,
             -1.95, -1.85, -1.3, -1.95, -1.55, -0.1, 0.25, 0.4, 0.0, 0.55, 0.0, 0.3, 0.75, 0.3, 0.6,
             0.2, 0.65, 0.3, 0.55, 0.5, -0.65, 0.0, 0.35, -0.6, -0.2, 0.0, 0.45, 0.2, -0.7, 0.0,
             -0.5, 0.4, -0.2, -1.15, -0.2, -0.25, 0.1, -0.75, -1.65, -0.3, -1.05, 0.2, -0.85, -1.2, -0.6]
spell_dk = [-0.8, -0.45, -1.6, -2.05, -1.0, -1.25, -2.4, -1.15, -1.55, -0.85, -1.25, -0.65, -1.85, -2.5, -1.35,
            -0.9, -1.1, -0.6, -2.0, -0.45, 1.25, 1.8, 1.5, -1.0, 2.35, -0.6, 2.2, 1.85, 1.5, 1.95,
            -0.85, 2.7, 2.6, 2.3, 1.9, 1.3, 1.85, 1.6, -0.6, 1.35, -0.85, 1.9, -0.35, 1.15, 1.6,
            -0.95, 1.25, -1.75, -0.5, 1.05, 0.8, 0.4, -1.45, -0.1, 1.5, 0.45, 2.0, 1.7, -0.45, 0.6]
spell_pink = [-1.9, -0.25, -1.55, -2.25, -1.15, -1.7, -2.0, -1.5, -2.1, -1.85, -2.0, -1.55, -2.2, -3.45, -1.75,
              -1.4, -2.3, -2.0, -2.2, -1.0, 0.45, -0.25, 1.0, 2.2, 2.0, 0.8, 0.95, 1.3, 0.9, 0.35,
              -0.3, 1.6, 1.3, 1.8, 0.35, -0.5, 0.95, 1.5, -0.8, 0.7, 0.55, 0.2, 0.0, 0.5, -0.2,
              0.7, 0.1, 0.35, -1.35, 0.5, -0.6, 0.6, -0.8, -1.7, -0.5, -0.4, 0.8, -1.3, -0.5, -0.5]
spell_lt = [-2.0, -0.9, -1.3, -2.5, -0.15, -1.95, -1.7, -1.65, -2.0, -0.5, -1.15, -1.3, -2.25, -2.8, -1.2,
            -1.2, -1.0, -0.95, -1.6, -0.6, 1.8, -0.9, 1.6, 1.0, -0.15, -0.9, 1.2, 1.5, 1.9, 1.6,
            1.7, 1.4, 2.8, 2.6, -0.5, 1.0, 1.8, 1.45, 1.5, 1.6, 0.8, 1.7, 1.4, 1.1, 1.95,
            0.9, 1.4, 0.8, 0.0, 1.4, 0.6, 0.5, 0.0, -1.5, 1.8, -1.35, 1.4, 0.3, -0.8, 1.25]
# off-scale (clipped) members at the bottom of AN.P2.S
spell_clip_idx = [10, 11, 12, 13, 14]
spell_clip_val = [-4.38, -4.38, -4.38, -4.38, -4.38]

# ---------------- assemble ----------------
rows = [
    dict(obs=obs_acamp, rp=raw_acamp_purple, rg=raw_acamp_green, rr=raw_acamp_red, rd=raw_acamp_dk,
         rpk=raw_acamp_pink, rlt=raw_acamp_lt,
         bp=acamp_purple, bg=acamp_green, br=acamp_red, bd=acamp_dk, bpk=acamp_pink, blt=acamp_lt),
    dict(obs=obs_jja, rp=raw_jja_purple, rg=raw_jja_green, rr=raw_jja_red, rd=raw_jja_dk,
         rpk=raw_jja_pink, rlt=raw_jja_lt,
         bp=jja_purple, bg=jja_green, br=jja_red, bd=jja_dk, bpk=jja_pink, blt=jja_lt),
    dict(obs=obs_cold, rp=raw_cold_purple, rg=raw_cold_green, rr=raw_cold_red, rd=raw_cold_dk,
         rpk=raw_cold_pink, rlt=raw_cold_lt,
         bp=cold_purple, bg=cold_green, br=cold_red, bd=cold_dk, bpk=cold_pink, blt=cold_lt),
    dict(obs=obs_spell, rp=raw_spell_purple, rg=raw_spell_green, rr=raw_spell_red, rd=raw_spell_dk,
         rpk=raw_spell_pink, rlt=raw_spell_lt,
         bp=spell_purple, bg=spell_green, br=spell_red, bd=spell_dk, bpk=spell_pink, blt=spell_lt),
]

PURPLE = "#a020f0"
GREEN = "#00e600"
RED = "#e0155a"
DKGREEN = "#0a4a28"
PINK = "rgba(212,140,196,0.85)"
LTGREEN = "rgba(150,205,120,0.85)"

dodge = [-0.32, -0.16, 0.0, 0.16, 0.32]
pos_b = [m + 1 + d for m in range(len(methods)) for d in dodge]
pos_1 = [1 + d for d in dodge]

row_px = [(42, 322), (333, 612), (625, 905), (916, 1195)]
col_px = [(68, 193), (242, 1253), (1305, 1416)]


def ax_names(idx):
    s = "" if idx == 1 else str(idx)
    return "x" + s, "y" + s, "xaxis" + s, "yaxis" + s


def box(xs, stats, color, width, lw, xa, ya):
    return go.Box(x=xs, lowerfence=[s[0] for s in stats], q1=[s[1] for s in stats],
                  median=[s[2] for s in stats], q3=[s[3] for s in stats],
                  upperfence=[s[4] for s in stats], width=width, whiskerwidth=0,
                  line=dict(color=color, width=lw), fillcolor="rgba(0,0,0,0)",
                  boxpoints=False, hoverinfo="skip", xaxis=xa, yaxis=ya)


def pts(xs, ys, color, xa, ya, size=6):
    return go.Scatter(x=xs, y=ys, mode="markers", marker=dict(color=color, size=size),
                      hoverinfo="skip", xaxis=xa, yaxis=ya)


def flat(lists):
    xs = [pos_1[k] for k in range(5) for _ in lists[k]]
    ys = [v for k in range(5) for v in lists[k]]
    return xs, ys


fig = go.Figure()
layout = dict(width=W, height=H, margin=dict(l=0, r=0, t=0, b=0),
              plot_bgcolor="white", paper_bgcolor="white", showlegend=False,
              boxmode="overlay")
shapes = []
annotations = []

tickfont = dict(family="Liberation Sans", size=11, color="#333333")
GRID = "#e4e4e4"
MINOR = "#efefef"
BORDER = "#8c8c8c"

for r, rd in enumerate(rows):
    for c in range(3):
        idx = r * 3 + c + 1
        xa, ya, xk, yk = ax_names(idx)
        x0, x1 = col_px[c]
        top, bot = row_px[r]
        if c == 0:
            tt, rng = ticks_a[r], range_a[r]
        elif c == 1:
            tt, rng = ticks_b[r], range_b[r]
        else:
            tt, rng = ticks_c[r], range_c[r]
        tv = [float(t) for t in tt]
        step = tv[1] - tv[0]
        minor_vals = [v + step / 2 for v in [tv[0] - step] + tv]
        last = (r == 3)
        if c == 1:
            xtv = list(range(1, len(methods) + 1))
            xtt = ["<b>%s</b>" % m for m in methods]
            xr = [0.4, len(methods) + 0.6]
        else:
            xtv = [1]
            xtt = ["<b>OBS</b>"] if c == 0 else ["<b>RAW</b>"]
            xr = [0.4, 1.6]
        layout[xk] = dict(domain=[x0 / W, x1 / W], anchor=ya, range=xr, tickmode="array",
                          tickvals=xtv, ticktext=xtt, showticklabels=last,
                          ticks="outside" if last else "", ticklen=4, tickcolor="#555",
                          tickfont=dict(family="Liberation Sans", size=13, color="#222"),
                          showgrid=True, gridcolor=GRID, gridwidth=1.2, zeroline=False,
                          showline=True, mirror=True, linecolor=BORDER, linewidth=1.6)
        layout[yk] = dict(domain=[1 - bot / H, 1 - top / H], anchor=xa, range=rng, tickmode="array",
                          tickvals=tv, ticktext=["<b>%s</b>" % t for t in tt], ticks="outside",
                          ticklen=3, tickcolor="#555",
                          tickfont=tickfont, showgrid=True, gridcolor=GRID, gridwidth=1.2,
                          minor=dict(tickmode="array", tickvals=minor_vals, showgrid=True,
                                     gridcolor=MINOR, gridwidth=0.8, ticks=""),
                          zeroline=(c != 0), zerolinecolor="#8a8a8a", zerolinewidth=2,
                          showline=True, mirror=True, linecolor=BORDER, linewidth=1.6)

        if c == 0:
            for k, st in enumerate(rd["obs"]):
                fig.add_trace(box([pos_1[k]], [st], obs_colors[k], 0.15, 2, xa, ya))
        elif c == 1:
            fig.add_trace(box(pos_b, rd["bg"], GREEN, 0.15, 1.6, xa, ya))
            fig.add_trace(box(pos_b, rd["bp"], PURPLE, 0.15, 1.6, xa, ya))
            fig.add_trace(pts(pos_b, rd["blt"], LTGREEN, xa, ya))
            fig.add_trace(pts(pos_b, rd["bpk"], PINK, xa, ya))
            fig.add_trace(pts(pos_b, rd["bd"], DKGREEN, xa, ya))
            fig.add_trace(pts(pos_b, rd["br"], RED, xa, ya))
            if r == 3:
                fig.add_trace(pts([pos_b[i] for i in spell_clip_idx], spell_clip_val, RED, xa, ya))
            for b in range(1, len(methods)):
                dashed = b in (4, 8)
                shapes.append(dict(type="line", xref=xa, yref=ya + " domain", x0=b + 0.5, x1=b + 0.5,
                                   y0=0, y1=1, layer="below",
                                   line=dict(color="#b0b0b0" if dashed else "#a0a0a0",
                                             width=1.2 if dashed else 1.8,
                                             dash="dash" if dashed else "solid")))
        else:
            fig.add_trace(box(pos_1, rd["rg"], GREEN, 0.15, 1.6, xa, ya))
            fig.add_trace(box(pos_1, rd["rp"], PURPLE, 0.15, 1.6, xa, ya))
            for key, col in (("rlt", LTGREEN), ("rpk", PINK), ("rd", DKGREEN), ("rr", RED)):
                px_, py_ = flat(rd[key])
                fig.add_trace(pts(px_, py_, col, xa, ya))

    # strip title on the right
    top, bot = row_px[r]
    txt = "<b>%s</b>" % row_titles[r]
    if row_star[r]:
        txt = txt + " <span style='font-size:28px'><b>*</b></span>"
    annotations.append(dict(x=1433 / W, y=1 - ((top + bot) / 2 + 10) / H, xref="paper", yref="paper",
                            xanchor="center", yanchor="middle",
                            text=txt, textangle=90, showarrow=False,
                            font=dict(family="Liberation Sans", size=16, color="#111")))

# panel letters
for lab, px, py in [("a)", 22, 30), ("b)", 215, 22), ("c)", 1277, 18)]:
    annotations.append(dict(x=px / W, y=1 - py / H, xref="paper", yref="paper", text="<b>%s</b>" % lab,
                            xanchor="center", yanchor="middle",
                            showarrow=False, font=dict(family="Liberation Sans", size=30, color="#111")))

# legend key for runs (inside top-left of panel b, row 1)
shapes.append(dict(type="rect", xref="paper", yref="paper", x0=249 / W, x1=436 / W,
                   y0=1 - 108 / H, y1=1 - 44 / H, fillcolor="white", line=dict(width=0), layer="above"))
key_x = [282, 316, 349, 382, 413]
for k, cx in enumerate(key_x):
    shapes.append(dict(type="rect", xref="paper", yref="paper", x0=(cx - 12) / W, x1=(cx + 12) / W,
                       y0=1 - 75 / H, y1=1 - 59 / H, line=dict(color="#444", width=1.6),
                       fillcolor="white", layer="above"))
    shapes.append(dict(type="line", xref="paper", yref="paper", x0=(cx - 12) / W, x1=(cx + 12) / W,
                       y0=1 - 67 / H, y1=1 - 67 / H, line=dict(color="#444", width=1.6), layer="above"))
    shapes.append(dict(type="line", xref="paper", yref="paper", x0=cx / W, x1=cx / W,
                       y0=1 - 59 / H, y1=1 - 53 / H, line=dict(color="#444", width=1.6), layer="above"))
    shapes.append(dict(type="line", xref="paper", yref="paper", x0=cx / W, x1=cx / W,
                       y0=1 - 81 / H, y1=1 - 75 / H, line=dict(color="#444", width=1.6), layer="above"))
    annotations.append(dict(x=cx / W, y=1 - 94 / H, xref="paper", yref="paper", text=runs[k],
                            xanchor="center", yanchor="middle",
                            showarrow=False, font=dict(family="Liberation Sans", size=15, color="#444")))

layout["shapes"] = shapes
layout["annotations"] = annotations
fig.update_layout(**layout)
fig.write_html("out.html")
